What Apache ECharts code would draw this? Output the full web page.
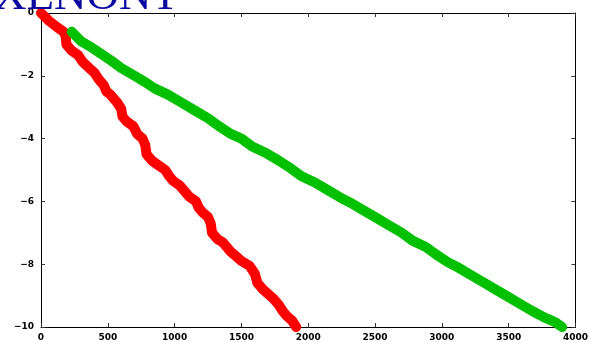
<!DOCTYPE html>
<html>
<head>
<meta charset="utf-8">
<script src="https://cdn.jsdelivr.net/npm/echarts@6/dist/echarts.min.js"></script>
<style>
  html, body { margin: 0; padding: 0; background: #fff; }
  #chart { width: 591px; height: 342px; }
</style>
</head>
<body>
<div id="chart"></div>
<script>
// Axis ranges and tick steps
const xTicks = [0, 500, 1000, 1500, 2000, 2500, 3000, 3500, 4000];
const yTicks = [0, -2, -4, -6, -8, -10];

// Red trace: [x, y]
const redSeries = [
  [0, 0], [60, -0.25], [120, -0.45], [170, -0.6], [185, -0.75], [190, -1.0],
  [230, -1.2], [280, -1.35], [310, -1.55], [360, -1.75], [400, -1.9], [430, -2.1],
  [470, -2.3], [490, -2.5], [520, -2.6], [570, -2.85], [600, -3.05], [610, -3.3],
  [640, -3.45], [690, -3.6], [720, -3.85], [760, -4.0], [780, -4.2], [790, -4.5],
  [830, -4.7], [880, -4.85], [930, -5.0], [960, -5.2], [990, -5.35], [1040, -5.5],
  [1080, -5.7], [1110, -5.85], [1160, -6.0], [1180, -6.2], [1210, -6.35], [1250, -6.5],
  [1270, -6.7], [1280, -7.0], [1320, -7.2], [1360, -7.3], [1390, -7.45], [1420, -7.6],
  [1460, -7.75], [1500, -7.9], [1560, -8.05], [1600, -8.3], [1620, -8.6], [1660, -8.8],
  [1700, -8.95], [1740, -9.1], [1780, -9.3], [1810, -9.5], [1840, -9.65], [1880, -9.8],
  [1910, -10.0]
];

// Green trace: [x, y]
const greenSeries = [
  [230, -0.6], [300, -0.9], [380, -1.1], [450, -1.3], [520, -1.5], [600, -1.75],
  [700, -2.0], [780, -2.2], [850, -2.4], [950, -2.6], [1050, -2.85], [1150, -3.1],
  [1250, -3.35], [1330, -3.6], [1420, -3.85], [1500, -4.0], [1580, -4.25], [1680, -4.45],
  [1780, -4.7], [1870, -4.95], [1950, -5.2], [2050, -5.4], [2150, -5.65], [2250, -5.9],
  [2320, -6.05], [2420, -6.3], [2520, -6.55], [2600, -6.75], [2700, -7.0], [2780, -7.25],
  [2880, -7.45], [2960, -7.7], [3050, -7.95], [3120, -8.1], [3220, -8.35], [3320, -8.6],
  [3400, -8.8], [3500, -9.05], [3580, -9.25], [3680, -9.5], [3770, -9.7], [3850, -9.85],
  [3900, -10.0]
];

const titleText = 'XENONT';

const chart = echarts.init(document.getElementById('chart'), null, { renderer: 'canvas' });

const tickFont = {
  fontFamily: 'DejaVu Sans',
  fontWeight: 'bold',
  fontSize: 9,
  color: '#000'
};

const baseX = {
  type: 'value',
  min: xTicks[0],
  max: xTicks[xTicks.length - 1],
  interval: xTicks[1] - xTicks[0],
  splitLine: { show: false },
  axisLine: { show: true, onZero: false, lineStyle: { color: '#000', width: 1 } },
  axisTick: { show: true, inside: true, length: 4, lineStyle: { color: '#333' } }
};
const baseY = {
  type: 'value',
  min: yTicks[yTicks.length - 1],
  max: yTicks[0],
  interval: 2,
  splitLine: { show: false },
  axisLine: { show: true, onZero: false, lineStyle: { color: '#000', width: 1 } },
  axisTick: { show: true, inside: true, length: 4, lineStyle: { color: '#333' } }
};

chart.setOption({
  animation: false,
  backgroundColor: '#fff',
  grid: { left: 41, right: 13, top: 13, bottom: 11, containLabel: false },
  xAxis: [
    Object.assign({}, baseX, {
      position: 'bottom',
      axisLabel: Object.assign({ margin: 6, formatter: v => String(v) }, tickFont)
    }),
    Object.assign({}, baseX, {
      position: 'top',
      axisLabel: { show: false }
    })
  ],
  yAxis: [
    Object.assign({}, baseY, {
      position: 'left',
      axisLabel: Object.assign({ margin: 7, formatter: v => String(v).replace('-', '\u2212') }, tickFont)
    }),
    Object.assign({}, baseY, {
      position: 'right',
      axisLabel: { show: false }
    })
  ],
  series: [
    {
      type: 'line',
      data: redSeries,
      xAxisIndex: 0,
      yAxisIndex: 0,
      showSymbol: false,
      lineStyle: { color: '#ff0000', width: 10, cap: 'round', join: 'round' },
      z: 3
    },
    {
      type: 'line',
      data: greenSeries,
      xAxisIndex: 0,
      yAxisIndex: 0,
      showSymbol: false,
      lineStyle: { color: '#00c000', width: 10, cap: 'round', join: 'round' },
      z: 4
    }
  ],
  graphic: [
    {
      type: 'text',
      left: -6,
      top: -25,
      z: 10,
      style: {
        text: titleText,
        font: '45px "Liberation Serif"',
        fill: '#0a0aa0'
      }
    }
  ]
});
</script>
</body>
</html>
